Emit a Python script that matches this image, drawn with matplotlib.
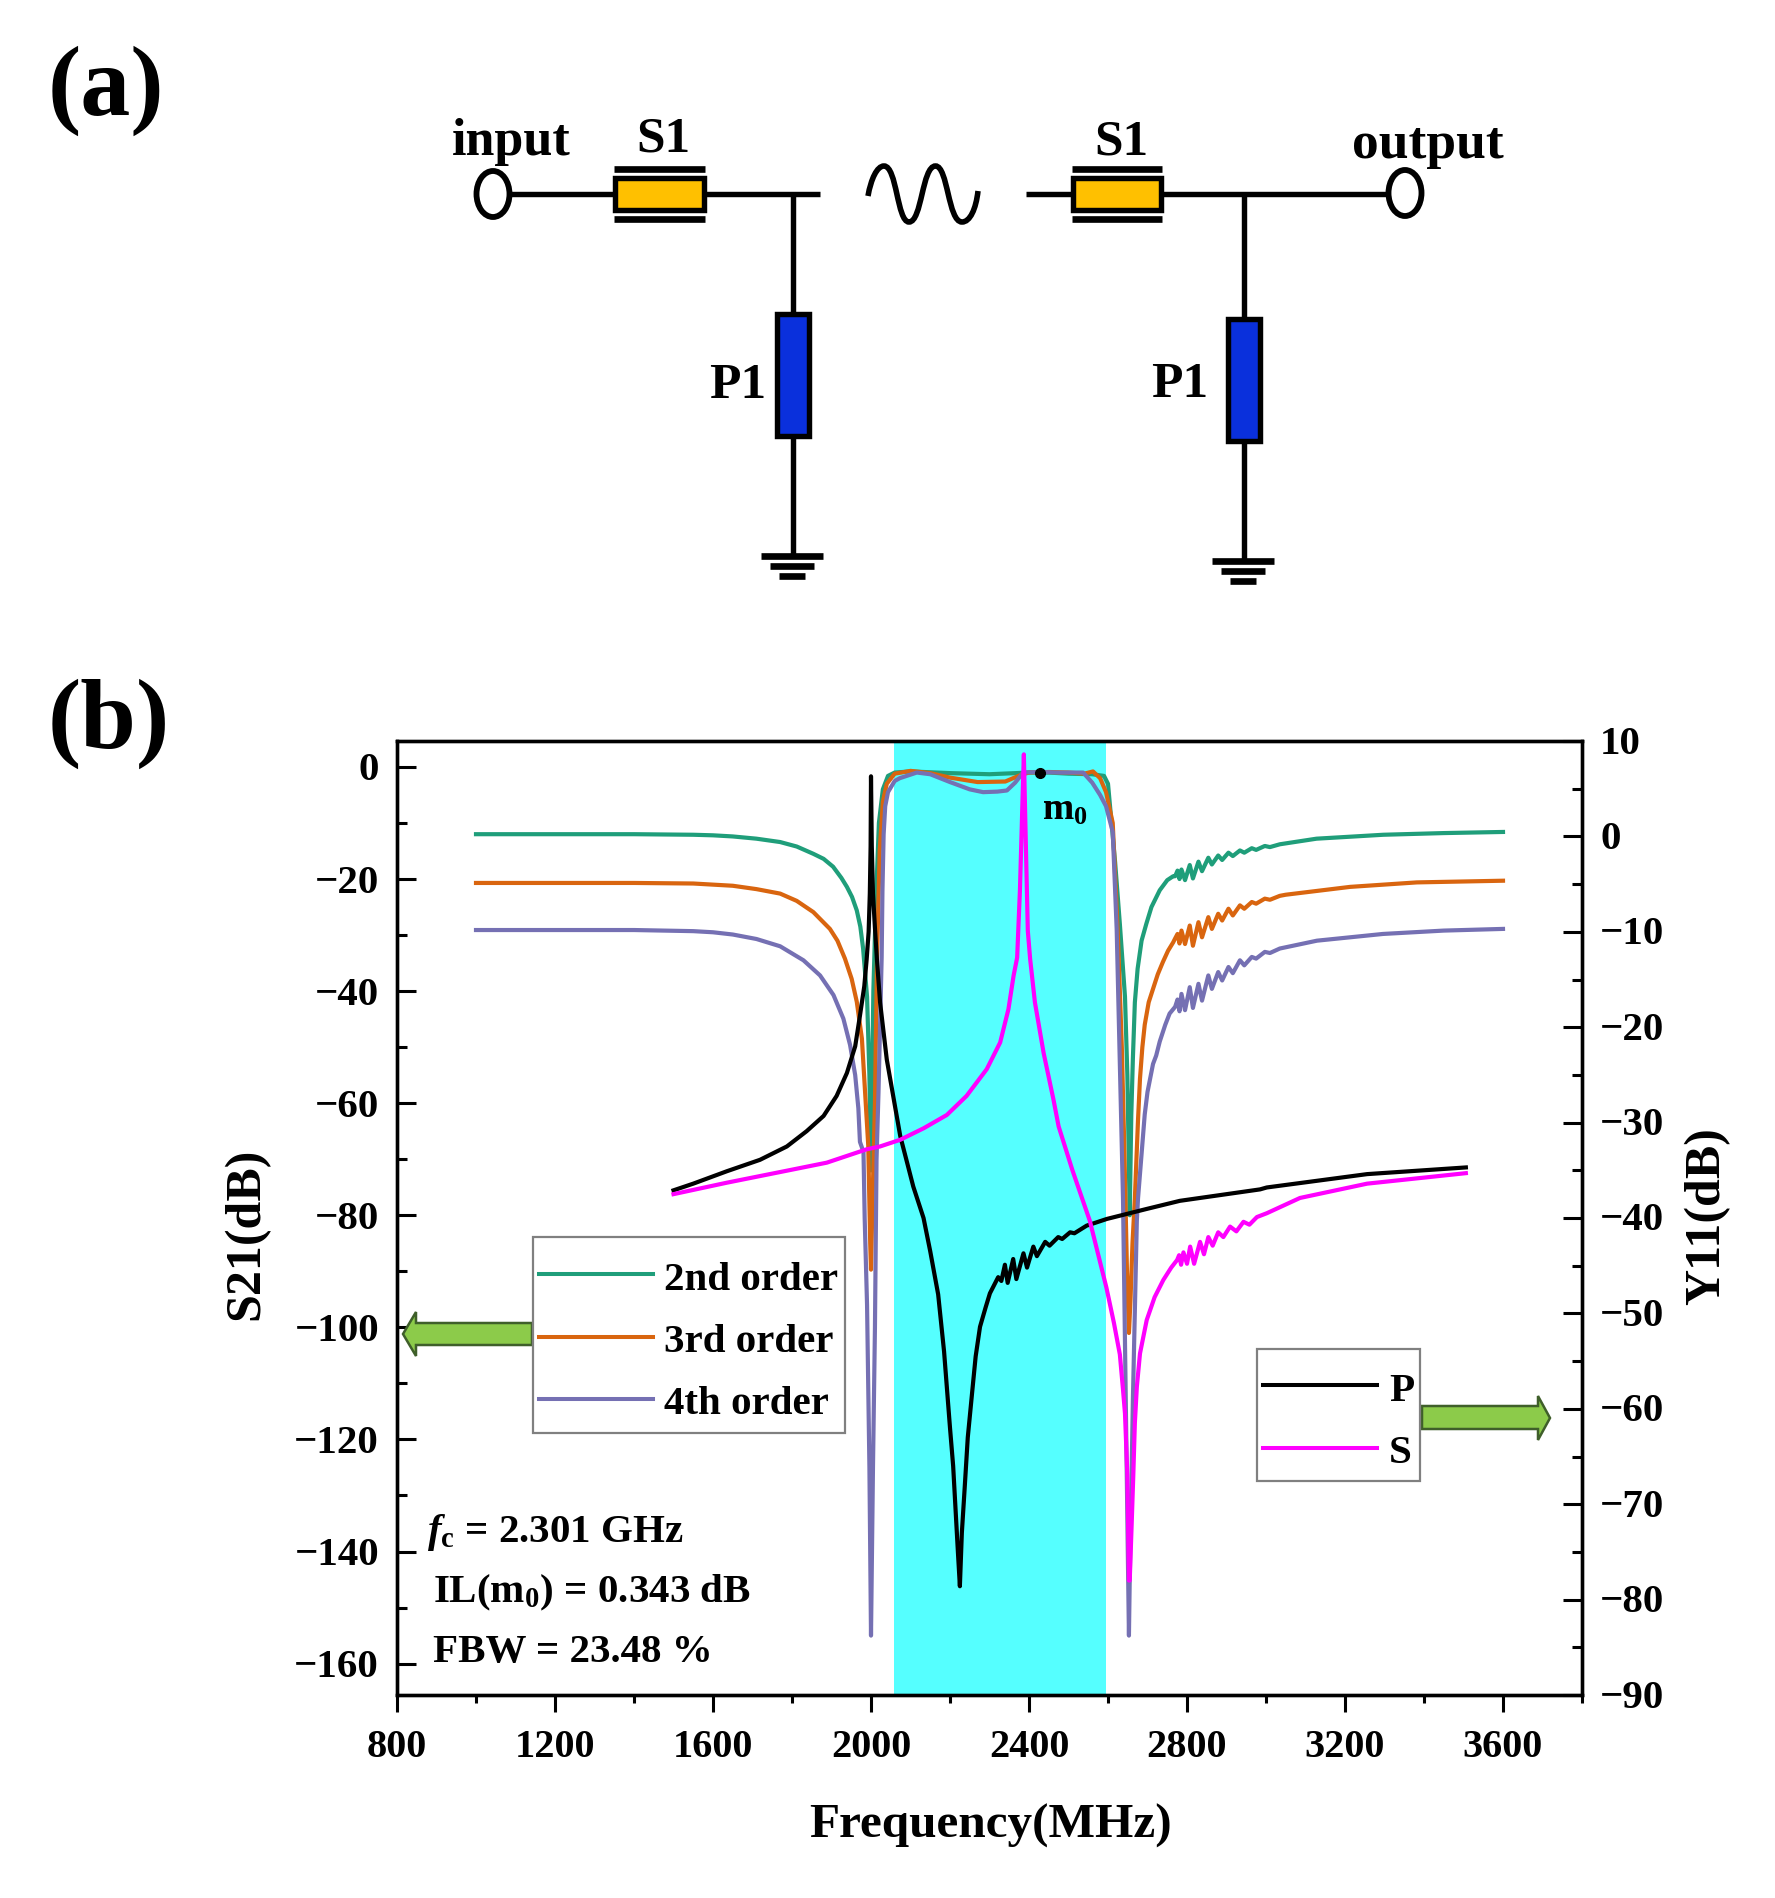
import matplotlib
matplotlib.use("Agg")
import matplotlib.pyplot as plt
from matplotlib.lines import Line2D
from matplotlib.patches import Rectangle, Polygon, Ellipse, PathPatch
from matplotlib.path import Path
from matplotlib.ticker import MultipleLocator
from matplotlib.transforms import ScaledTranslation

plt.rcParams['font.family'] = ['Liberation Serif', 'DejaVu Serif']
plt.rcParams['font.weight'] = 'bold'
plt.rcParams['mathtext.fontset'] = 'custom'
plt.rcParams['mathtext.rm'] = 'Liberation Serif:bold'
plt.rcParams['mathtext.it'] = 'Liberation Serif:italic:bold'
plt.rcParams['mathtext.bf'] = 'Liberation Serif:bold'

# ---------- data ----------
green_f = [1000,1200,1400,1550,1600,1650,1710,1770,1812,1854,1880,1904,1925,1939,1952,1964,1973,1980,1990,1996,2000,2003,2006,2012,2020,2030,2043,2060,2100,2200,2300,2400,2450,2500,2560,2590,2600,2618,2630,2643,2649,2655,2659,2663,2668,2675,2685,2697,2710,2731,2750,2765,2770,2776,2781,2786,2795,2807,2815,2829,2838,2854,2863,2879,2889,2905,2916,2934,2945,2964,2975,2997,3010,3035,3128,3297,3450,3600]
green_v = [-12,-12,-12,-12.1,-12.2,-12.4,-12.8,-13.4,-14.2,-15.5,-16.4,-17.8,-19.8,-21.4,-23.2,-25.6,-28.5,-32.4,-41,-55,-72,-55,-40,-25,-10,-4,-1.6,-1,-0.8,-1.1,-1.3,-1,-1,-1.2,-1.3,-1.6,-3,-17,-28,-41,-55,-80,-62,-52,-42,-36,-31,-28,-25,-22,-20.2,-19.5,-19.5,-18.5,-20,-18.3,-20.2,-17.5,-19.9,-16.9,-18.6,-16.2,-17.4,-15.8,-16.6,-15.3,-15.9,-14.9,-15.3,-14.5,-14.8,-14.1,-14.3,-13.8,-12.8,-12.1,-11.8,-11.6]

orange_f = [1000,1200,1400,1550,1600,1650,1710,1770,1812,1854,1896,1915,1934,1951,1964,1977,1985,1993,1998,2000,2003,2010,2015,2022,2030,2040,2060,2100,2150,2200,2270,2340,2380,2400,2450,2500,2540,2562,2580,2595,2612,2625,2635,2642,2648,2653,2657,2662,2668,2676,2681,2687,2693,2703,2714,2726,2739,2752,2765,2770,2776,2781,2786,2795,2807,2815,2829,2838,2854,2863,2879,2889,2905,2916,2934,2945,2964,2975,2997,3010,3035,3050,3213,3382,3600]
orange_v = [-20.7,-20.7,-20.7,-20.8,-21,-21.2,-21.8,-22.6,-23.9,-25.9,-28.9,-31,-34.2,-37.8,-41.9,-48.5,-58,-67.5,-85,-89.7,-80,-60,-35,-15,-6.2,-3,-1.2,-0.7,-1.1,-1.9,-2.7,-2.6,-1.4,-1,-0.9,-1,-1.2,-0.8,-2,-4.5,-10,-30,-50,-70,-90,-101,-95,-85,-77,-63,-55.6,-50,-46,-42,-39.6,-37,-34.8,-32.8,-31.3,-30.6,-29.8,-31.5,-29.2,-31.6,-28.3,-31.9,-27.7,-30.4,-26.8,-28.9,-26.2,-27.4,-25.3,-26.5,-24.7,-25.3,-24.1,-24.4,-23.5,-23.7,-23,-22.8,-21.4,-20.6,-20.3]

purple_f = [1000,1200,1400,1550,1600,1650,1710,1770,1829,1871,1905,1930,1947,1960,1968,1972,1981,1984,1990,1996,2000,2005,2010,2014,2019,2027,2029,2032,2036,2043,2060,2073,2116,2150,2200,2250,2284,2320,2344,2365,2385,2430,2480,2537,2560,2580,2595,2612,2622,2630,2638,2645,2653,2655,2663,2673,2676,2693,2700,2714,2722,2731,2745,2756,2770,2776,2781,2786,2795,2807,2815,2829,2838,2854,2863,2879,2889,2905,2916,2934,2945,2964,2975,2997,3010,3035,3129,3296,3450,3600]
purple_v = [-29.1,-29.1,-29.1,-29.3,-29.5,-29.9,-30.7,-32,-34.5,-37.2,-40.7,-44.9,-49.6,-55,-60.9,-66.9,-68.7,-80.5,-96,-125,-155,-125,-100,-70,-58,-34,-22,-12,-7,-4.5,-2.5,-2,-1,-1.3,-2.7,-4,-4.5,-4.4,-4.2,-2.8,-1,-0.9,-1,-1,-2.8,-5,-7,-11.6,-29,-53,-77,-113,-155,-145,-113,-81,-77,-62,-58,-53,-51.5,-49,-46,-44,-42.8,-41.5,-43.6,-40.5,-43.4,-39.3,-43,-38.7,-41.7,-37.2,-39.6,-36.6,-38.1,-35.7,-36.8,-34.5,-35.4,-33.9,-34.2,-33,-33.2,-32.4,-31,-29.8,-29.2,-28.9]

black_f = [1500,1550,1635,1719,1787,1837,1880,1913,1939,1960,1972,1983,1989,1994,1997,1999,2000,2002,2005,2010,2015,2023,2040,2074,2107,2133,2150,2170,2185,2200,2208,2216,2220,2225,2230,2237,2245,2256,2265,2276,2290,2301,2322,2330,2339,2346,2360,2368,2386,2395,2411,2420,2441,2452,2474,2484,2504,2515,2546,2597,2698,2782,2985,3002,3256,3506]
black_v = [-37.1,-36.4,-35.1,-33.9,-32.5,-30.9,-29.3,-27.2,-24.8,-22,-18.8,-15.7,-12.9,-10,-6,-1,6.3,-1,-6,-9.6,-12.9,-17.4,-23.4,-31.4,-36.7,-40,-43.5,-48,-54,-62,-66,-72,-75,-78.6,-73,-68.4,-63,-58.3,-54.5,-51.4,-49.4,-47.9,-46.2,-46.6,-44.9,-46.8,-44.3,-46.4,-43.7,-45.2,-43,-44,-42.5,-42.9,-42,-42.2,-41.5,-41.6,-40.8,-40.1,-39.05,-38.2,-37,-36.8,-35.4,-34.7]

magenta_f = [1500,1635,1804,1888,1989,2023,2074,2133,2192,2242,2293,2327,2348,2361,2370,2377,2383,2387,2391,2397,2403,2415,2437,2462,2475,2510,2554,2596,2615,2630,2638,2643,2649,2653,2655,2660,2664,2668,2673,2681,2698,2718,2740,2760,2775,2780,2785,2791,2800,2808,2818,2833,2843,2854,2865,2879,2892,2909,2925,2943,2958,2977,3002,3086,3256,3506]
magenta_v = [-37.5,-36.3,-34.9,-34.2,-32.8,-32.5,-31.8,-30.6,-29.2,-27.2,-24.4,-21.6,-18.1,-14.6,-12.7,-5.7,3,8.6,1,-9.9,-12.9,-17.4,-22.7,-27.6,-30.4,-35,-40.3,-47.3,-51,-54.3,-58,-60.5,-67,-78,-78,-72,-67,-61.5,-57.7,-54.2,-50.7,-48.3,-46.5,-45.2,-44.4,-43.9,-44.9,-43.6,-44.8,-43,-44.8,-42.5,-43.8,-42,-42.9,-41.5,-42,-40.9,-41.4,-40.4,-40.7,-39.9,-39.5,-37.9,-36.4,-35.3]

band_f = [2058, 2595]
m0_f, m0_v = 2428, -1.0

order_labels = ['2nd order', '3rd order', '4th order']
order_colors = ['#1F9E7A', '#D9650F', '#7570B3']
right_labels = ['P', 'S']
right_colors = ['#000000', '#FF00FF']
info_lines = [r'$\mathit{f}_{\mathrm{c}}$ = 2.301 GHz',
              r'IL(m$_{0}$) = 0.343 dB',
              'FBW = 23.48 %']

W, H = 1775, 1899
fig = plt.figure(figsize=(W / 100, H / 100), dpi=100, facecolor='white')
L, R, T, B = 397, 1582, 742, 1696
ax = fig.add_axes([L / W, 1 - B / H, (R - L) / W, (B - T) / H])
ax2 = ax.twinx()
ax2.set_zorder(ax.get_zorder() + 1)
ax2.patch.set_visible(False)

lw = 3.0
ax.axvspan(band_f[0], band_f[1], color='#55FFFF', lw=0, zorder=1)
for f, v, c in zip([green_f, orange_f, purple_f], [green_v, orange_v, purple_v], order_colors):
    ax.plot(f, v, color=c, lw=lw, zorder=2, solid_joinstyle='round')
ax.plot([m0_f], [m0_v], 'o', color='black', ms=7, zorder=5)
ax.text(2432, -9.2, r'm$_{0}$', fontsize=27, va='baseline', ha='left', zorder=6)

ax2.plot(black_f, black_v, color=right_colors[0], lw=lw)
ax2.plot(magenta_f, magenta_v, color=right_colors[1], lw=lw)

ax.set_xlim(800, 3800)
ax.set_ylim(-165.6, 4.63)
ax2.set_ylim(-90, 10)
ax.xaxis.set_major_locator(MultipleLocator(400))
ax.xaxis.set_minor_locator(MultipleLocator(200))
ax.yaxis.set_major_locator(MultipleLocator(20))
ax.yaxis.set_minor_locator(MultipleLocator(10))
ax2.yaxis.set_major_locator(MultipleLocator(10))
ax2.yaxis.set_minor_locator(MultipleLocator(5))
ax.set_xticks([800 + 400 * i for i in range(8)])
ax.tick_params(axis='x', which='major', direction='out', length=12, width=2.2, labelsize=29, pad=12)
ax.tick_params(axis='x', which='minor', direction='out', length=6, width=2.2)
ax.tick_params(axis='y', which='major', direction='in', length=13.5, width=2.2, labelsize=29.5, pad=13)
ax.tick_params(axis='y', which='minor', direction='in', length=7, width=2.2)
ax2.tick_params(axis='y', which='major', direction='in', length=14, width=2.2, labelsize=29.5, pad=13)
ax2.tick_params(axis='y', which='minor', direction='in', length=7, width=2.2)
for a in (ax, ax2):
    for s in a.spines.values():
        s.set_linewidth(2.4)

# nudge the y tick labels up to where they sit in the reference
for a, dy in ((ax, 1.5), (ax2, 2.5)):
    for t in a.get_yticklabels():
        t.set_transform(t.get_transform() + ScaledTranslation(0, dy / 100, fig.dpi_scale_trans))

fig.text(990 / W, 1 - 1838 / H, 'Frequency(MHz)', fontsize=35.5, ha='center', va='baseline')
fig.text(246 / W, 1 - 1234 / H, 'S21(dB)', fontsize=36, rotation=90, ha='center', va='center')
fig.text(1707 / W, 1 - 1216 / H, 'Y11(dB)', fontsize=36, rotation=90, ha='center', va='center')

# ---------- overlay in picture pixels for the diagram and furniture ----------
ov = fig.add_axes([0, 0, 1, 1], zorder=10)
ov.set_xlim(0, W)
ov.set_ylim(H, 0)
ov.axis('off')

# green arrows
arrow_edge = '#3F5F2A'
arrow_fill = '#8CCB4A'
ov.add_patch(Polygon([(403, 1335), (416, 1313), (416, 1324), (532, 1324), (532, 1346), (416, 1346), (416, 1357)],
                     closed=True, fc=arrow_fill, ec=arrow_edge, lw=1.8))
ov.add_patch(Polygon([(1550, 1419), (1538, 1397), (1538, 1407), (1422, 1407), (1422, 1430), (1538, 1430), (1538, 1441)],
                     closed=True, fc=arrow_fill, ec=arrow_edge, lw=1.8))

# legend frames
ov.add_patch(Rectangle((533, 1238), 312, 196, fc='white', ec='#808080', lw=1.6))
ov.add_patch(Rectangle((1257, 1350), 163, 132, fc='white', ec='#808080', lw=1.6))

h1 = [Line2D([], [], color=c, lw=2.9) for c in order_colors]
leg1 = ov.legend(h1, order_labels, loc='upper left', bbox_to_anchor=(539 / W, 1 - 1261 / H),
                 bbox_transform=fig.transFigure, frameon=False, fontsize=29.5, borderpad=0, borderaxespad=0,
                 handlelength=114 / 41, handletextpad=0.27, labelspacing=0.6)
ov.add_artist(leg1)
h2 = [Line2D([], [], color=c, lw=2.9) for c in right_colors]
ov.legend(h2, right_labels, loc='upper left', bbox_to_anchor=(1263 / W, 1 - 1372 / H),
          bbox_transform=fig.transFigure, frameon=False, fontsize=29.5, borderpad=0, borderaxespad=0,
          handlelength=114 / 41, handletextpad=0.3, labelspacing=0.6)

# text block
for s, x, y in zip(info_lines, [427, 433, 433], [1542, 1602, 1662]):
    ov.text(x, y, s, fontsize=29.5, ha='left', va='baseline')

# panel letters
ov.text(48, 115, '(a)', fontsize=72, ha='left', va='baseline')
ov.text(48, 748, '(b)', fontsize=72, ha='left', va='baseline')

# schematic
def wire(xs, ys, w=3.9):
    ov.plot(xs, ys, color='black', lw=w, solid_capstyle='butt')

def series_res(x0, x1):
    wire([x0, x1], [170, 170], 4.8)
    wire([x0, x1], [220, 220], 4.8)
    ov.add_patch(Rectangle((x0 + 1, 179), x1 - x0 - 2, 32, fc='#FFC000', ec='black', lw=3.9, zorder=3))

def shunt(xc, y0, y1, yg):
    wire([xc, xc], [195, y0])
    ov.add_patch(Rectangle((xc - 16, y0), 32, y1 - y0, fc='#0A30DC', ec='black', lw=3.9, zorder=3))
    wire([xc, xc], [y1, yg])
    wire([xc - 32, xc + 30], [yg, yg], 4.8)
    wire([xc - 23, xc + 21], [yg + 10, yg + 10], 4.8)
    wire([xc - 14, xc + 12], [yg + 20, yg + 20], 4.8)

wire([511, 820], [195, 195])
series_res(614, 705)
shunt(793, 315, 437, 557)
wire([1026, 1387], [195, 195])
series_res(1072, 1162)
shunt(1243.5, 320, 442, 562)
ov.add_patch(Ellipse((493, 195), 33, 46, fc='white', ec='black', lw=4.2, zorder=3))
ov.add_patch(Ellipse((1405, 194), 33, 46, fc='white', ec='black', lw=4.2, zorder=3))

wave_pts = [(868, 197), (871, 180), (877, 167), (884, 167),
            (897, 167), (897, 223), (909, 223),
            (922, 223), (922, 167), (935.5, 167),
            (948, 167), (948, 223), (962, 223),
            (970, 223), (976, 210), (978, 192)]
wave_codes = [Path.MOVETO] + [Path.CURVE4] * 15
ov.add_patch(PathPatch(Path(wave_pts, wave_codes), fc='none', ec='black', lw=4.0))

ov.text(452, 155, 'input', fontsize=37.5, ha='left', va='baseline')
ov.text(663, 151, 'S1', fontsize=37, ha='center', va='baseline')
ov.text(1121, 154, 'S1', fontsize=37, ha='center', va='baseline')
ov.text(738, 398, 'P1', fontsize=37, ha='center', va='baseline')
ov.text(1180, 397, 'P1', fontsize=37, ha='center', va='baseline')
ov.text(1352, 158, 'output', fontsize=38.5, ha='left', va='baseline')

fig.savefig('out.png', dpi=100, facecolor='white')
